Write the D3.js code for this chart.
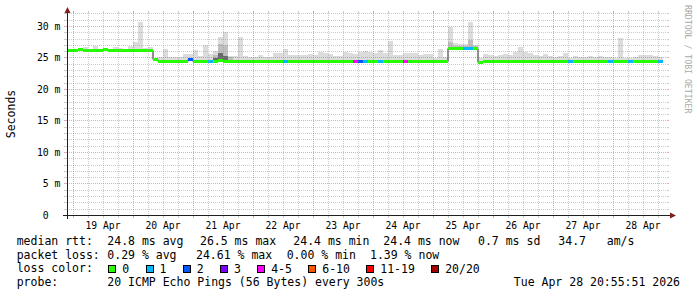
<!DOCTYPE html>
<html><head><meta charset="utf-8">
<script src="https://cdn.jsdelivr.net/npm/d3@7"></script>
<style>
body{margin:0;background:#fff}
text{font-family:"DejaVu Sans Mono",monospace;white-space:pre}
</style></head>
<body><svg id="c" width="697" height="297"></svg>
<script>
// ---- time frame ----
const startTime = "2026-04-18T21:36:00Z";
const endTime   = "2026-04-28T21:36:00Z";
const dataStart = "2026-04-18T22:00:00Z";
const stepHours = 2;

// ---- median rtt (ms) per 2h step ----
const median = [
 26.2,
 26.2,26.3,26.2,26.2,26.2,26.2,26.3,26.2,26.2,26.2,26.2,26.2,
 26.2,26.2,26.2,26.2,24.7,24.5,24.4,24.4,24.5,24.5,24.5,24.7,
 24.5,24.5,24.5,24.4,24.5,24.6,24.5,24.5,24.5,24.4,24.4,24.5,
 24.5,24.4,24.5,24.5,24.5,24.5,24.4,24.5,24.5,24.5,24.4,24.5,
 24.5,24.5,24.5,24.4,24.5,24.5,24.5,24.5,24.5,24.5,24.5,24.5,
 24.5,24.5,24.5,24.5,24.4,24.5,24.5,24.5,24.5,24.5,24.5,24.4,
 24.4,24.4,24.4,26.5,26.5,26.5,26.5,26.5,26.5,24.3,24.4,24.5,
 24.5,24.5,24.4,24.5,24.5,24.5,24.5,24.4,24.5,24.5,24.5,24.4,
 24.5,24.5,24.5,24.4,24.4,24.5,24.4,24.4,24.5,24.4,24.4,24.5,
 24.4,24.4,24.5,24.4,24.4,24.5,24.4,24.4,24.5,24.4
];
// ---- lost pings (of 20) per step ----
const lossPings = [
 0,
 0,0,0,0,0,0,0,0,0,0,0,0,
 0,0,0,0,0,0,0,0,0,0,0,2,
 0,0,0,1,0,0,0,0,0,0,0,0,
 0,0,0,0,0,0,1,0,0,0,0,0,
 0,0,0,0,0,0,0,0,4,2,1,0,
 0,1,0,0,0,0,4,0,0,0,0,0,
 0,0,0,0,0,0,1,1,0,0,0,0,
 0,0,0,0,0,0,0,0,0,0,0,0,
 0,0,0,1,0,0,0,0,0,0,0,1,
 0,0,0,1,0,0,0,0,0,1
];
// ---- smoke: highest ping (ms) per step ----
const smokeTop = [
 26.3,
 26.3,26.4,26.7,26.4,26.9,26.4,26.3,26.4,26.6,26.5,26.4,26.8,
 27.4,30.7,26.5,26.7,24.9,25.0,26.3,25.0,25.0,25.1,25.5,25.6,
 26.2,25.3,27.0,25.6,26.0,28.3,29.0,25.3,25.2,28.2,25.2,25.1,
 25.0,25.4,25.0,25.1,25.7,25.7,26.4,25.4,25.4,25.4,25.4,25.6,
 25.4,25.8,25.7,25.5,25.2,25.3,25.8,25.7,25.5,25.9,26.0,25.9,
 25.7,26.2,25.7,27.6,25.4,25.4,25.7,25.7,25.7,25.4,25.5,25.5,
 24.9,26.3,25.0,29.8,27.3,27.2,27.1,30.6,27.0,24.9,25.5,25.4,
 25.2,25.4,25.5,25.4,25.9,26.7,25.9,25.7,25.4,25.2,25.5,25.2,
 25.0,25.2,25.7,24.9,25.2,25.0,25.0,25.2,25.0,25.3,25.0,25.0,
 24.9,28.1,24.9,24.9,25.0,25.4,25.4,25.4,25.3,25.1
];
// denser smoke layers (step index, top ms)
const smokeMidSteps = [29, 30, 31, 32, 76, 77, 78, 79, 80, 81];
const smokeMidTop   = [25.4, 27.2, 27.0, 25.0, 27.4, 26.9, 26.9, 26.9, 27.7, 26.9];
const smokeDarkSteps = [29, 30, 31];
const smokeDarkTop   = [24.9, 25.7, 25.2];

// ---- axes ----
const yMajor = [5, 10, 15, 20, 25, 30];
const yMax = 32.06;

// ---- legend ----
const lossLabels = ["0","1","2","3","4-5","6-10","11-19","20/20"];
const lossColors = ["#26ff00","#00b8ff","#0059ff","#7e00ff","#ff00ff","#ff5500","#ff0000","#a10000"];
const row1 = [["median rtt:",16.7],["24.8 ms avg",107.3],["26.5 ms max",200],["24.4 ms min",293.3],["24.4 ms now",383.3],["0.7 ms sd",478],["34.7   am/s",558.3]];
const row2 = [["packet loss:",16.7],["0.29 % avg",107.3],["24.61 % max",196],["0.00 % min",286.7],["1.39 % now",370]];
const probeText = "20 ICMP Echo Pings (56 Bytes) every 300s";
const stampText = "Tue Apr 28 20:55:51 2026";

const svg = d3.select("#c");
const x = d3.scaleUtc().domain([new Date(startTime), new Date(endTime)]).range([67, 667]);
const y = d3.scaleLinear().domain([0, yMax]).range([215, 13]);
const t0 = Date.parse(dataStart);
const tAt = i => new Date(t0 + i * stepHours * 3600e3);
const lossIdx = n => n <= 3 ? n : n <= 5 ? 4 : n <= 10 ? 5 : n <= 19 ? 6 : 7;

svg.append("rect").attr("width",697).attr("height",297).attr("fill","#fff");

// smoke
const gS = svg.append("g").attr("shape-rendering","crispEdges");
function smokeRect(i, top, col){
  const x0 = x(tAt(i)), x1 = x(tAt(i+1));
  const yt = y(top), yb = y(median[i] - 0.15);
  if (yb - yt <= 0) return;
  gS.append("rect").attr("x",x0).attr("width",x1-x0).attr("y",yt).attr("height",yb-yt).attr("fill",col);
}
smokeTop.forEach((v,i)=>smokeRect(i, v, "#dcdcdc"));
smokeMidSteps.forEach((s,k)=>smokeRect(s, smokeMidTop[k], "#bfbfbf"));
smokeDarkSteps.forEach((s,k)=>smokeRect(s, smokeDarkTop[k], "#6a6a6a"));

// median black line
const pts = median.map((m,i)=>[tAt(i), m]);
pts.push([tAt(median.length), median[median.length-1]]);
svg.append("path").attr("d", d3.line().x(d=>x(d[0])).y(d=>Math.round(y(d[1]))+0.5).curve(d3.curveStepAfter)(pts))
  .attr("fill","none").attr("stroke","#202020").attr("stroke-width",1);

// loss-coloured band
const gB = svg.append("g").attr("shape-rendering","crispEdges");
median.forEach((m,i)=>{
  const x0 = x(tAt(i)), x1 = x(tAt(i+1));
  const yc = Math.round(y(m));
  gB.append("rect").attr("x",x0).attr("width",x1-x0).attr("y",yc-1).attr("height",3)
    .attr("fill", lossColors[lossIdx(lossPings[i])]);
});

// grid
const minorCol = "rgba(143,143,143,0.45)", majorCol = "rgba(222,79,79,0.5)";
const gG = svg.append("g").attr("shape-rendering","crispEdges");
const yMinor = d3.range(1, Math.floor(yMax)+1).filter(v=>v%5!==0);
function hline(v, col){
  const yy = Math.round(y(v))+0.5;
  gG.append("line").attr("x1",67).attr("x2",667).attr("y1",yy).attr("y2",yy).attr("stroke",col).attr("stroke-dasharray","1,1");
  gG.append("line").attr("x1",64).attr("x2",67).attr("y1",yy).attr("y2",yy).attr("stroke",col);
  gG.append("line").attr("x1",667).attr("x2",669).attr("y1",yy).attr("y2",yy).attr("stroke",col);
}
function vline(t, col){
  const xx = Math.round(x(t))+0.5;
  gG.append("line").attr("x1",xx).attr("x2",xx).attr("y1",13).attr("y2",215).attr("stroke",col).attr("stroke-dasharray","1,1");
  gG.append("line").attr("x1",xx).attr("x2",xx).attr("y1",215).attr("y2",218).attr("stroke",col);
  gG.append("line").attr("x1",xx).attr("x2",xx).attr("y1",11).attr("y2",13).attr("stroke",col);
}
yMinor.forEach(v=>hline(v, minorCol));
yMajor.forEach(v=>hline(v, majorCol));
const [d0,d1] = x.domain();
d3.utcHour.every(6).range(d0,d1).filter(t=>t.getUTCHours()!==0).forEach(t=>vline(t, minorCol));
const days = d3.utcDay.range(d0,d1);
days.forEach(t=>vline(t, majorCol));

// axes
const axisCol = "#1f1f1f", arrowCol = "#801f1f";
svg.append("line").attr("x1",63).attr("x2",671).attr("y1",215.5).attr("y2",215.5).attr("stroke",axisCol).attr("shape-rendering","crispEdges");
svg.append("line").attr("x1",67.5).attr("x2",67.5).attr("y1",219).attr("y2",12).attr("stroke",axisCol).attr("shape-rendering","crispEdges");
svg.append("path").attr("d","M670,212.5L676,215.5L670,218.5Z").attr("fill",arrowCol);
svg.append("path").attr("d","M64.5,13L67.5,7L70.5,13Z").attr("fill",arrowCol);

// y labels
const fs = 9.8, cw = 0.602*fs;
svg.append("text").attr("x",60.5-2*cw).attr("y",y(0)+3.5).attr("text-anchor","end").attr("font-size",fs).attr("fill","#000").text("0");
yMajor.forEach(v=>{
  svg.append("text").attr("x",60.5).attr("y",Math.round(y(v))+4).attr("text-anchor","end").attr("font-size",fs).attr("fill","#000").text(v+" m");
});
// x labels (at noon)
const fmt = d3.utcFormat("%d %b");
days.forEach(t=>{
  const noon = d3.utcHour.offset(t,12);
  if (noon < d1) svg.append("text").attr("x",x(noon)).attr("y",228.5).attr("text-anchor","middle").attr("font-size",9.7).attr("fill","#000").text(fmt(noon));
});

// vertical title
svg.append("text").attr("transform","translate(14.5,114) rotate(-90)").attr("text-anchor","middle").attr("font-size",11.5).attr("fill","#000").text("Seconds");
svg.append("text").attr("transform","translate(685,5) rotate(90)").attr("font-size",8.2).attr("fill","#aaaaaa").text("RRDTOOL / TOBI OETIKER");

// legend
const lf = 11.5;
row1.forEach(([s,xx])=>svg.append("text").attr("x",xx).attr("y",245).attr("font-size",lf).attr("fill","#000").text(s));
row2.forEach(([s,xx])=>svg.append("text").attr("x",xx).attr("y",258.5).attr("font-size",lf).attr("fill","#000").text(s));
svg.append("text").attr("x",16.7).attr("y",272).attr("font-size",lf).attr("fill","#000").text("loss color:");
let lx = 108.3;
lossLabels.forEach((s,k)=>{
  svg.append("rect").attr("x",Math.round(lx)+0.5).attr("y",265.5).attr("width",7).attr("height",7).attr("fill",lossColors[k]).attr("stroke","#000").attr("stroke-width",1);
  svg.append("text").attr("x",lx+14).attr("y",272.5).attr("font-size",lf).attr("fill","#000").text(s);
  lx = lx + 14 + s.length*0.602*lf + 16.3;
});
svg.append("text").attr("x",16.7).attr("y",286).attr("font-size",lf).attr("fill","#000").text("probe:");
svg.append("text").attr("x",107.3).attr("y",286).attr("font-size",lf).attr("fill","#000").text(probeText);
svg.append("text").attr("x",680).attr("y",286).attr("text-anchor","end").attr("font-size",lf).attr("fill","#000").text(stampText);
</script>
</body></html>
